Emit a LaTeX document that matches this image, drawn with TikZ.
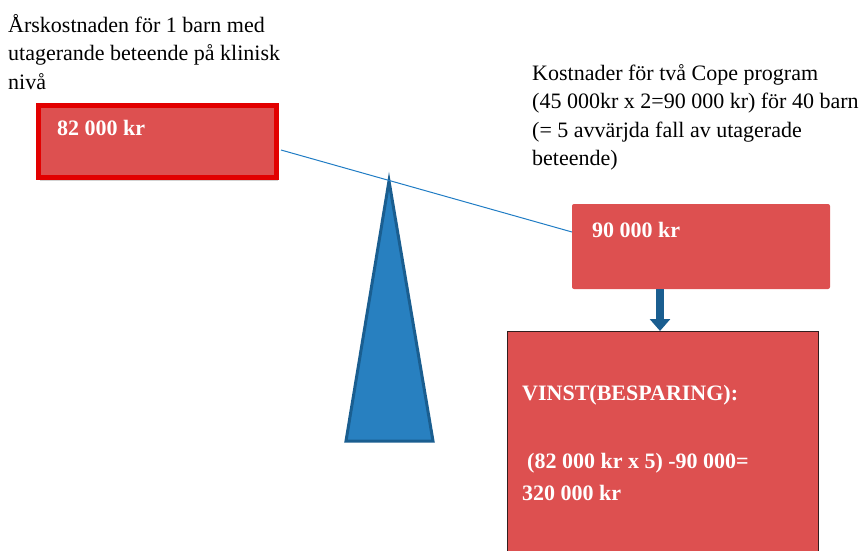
\documentclass[tikz,border=0pt]{standalone}
\usepackage{fontspec}
\setmainfont{Liberation Serif}
\usetikzlibrary{shadows,arrows.meta}
\definecolor{boxred}{RGB}{221,80,80}
\definecolor{brightred}{RGB}{226,0,0}
\definecolor{triblue}{RGB}{40,128,192}
\definecolor{darkblue}{RGB}{26,94,144}
\definecolor{lineblue}{RGB}{32,124,196}
\definecolor{darkedge}{RGB}{50,30,30}
\tikzset{
  plain/.style={font=\fontsize{22}{28.5}\selectfont, align=left, inner sep=0pt, text=black},
  boxtext/.style={font=\fontsize{22}{32}\selectfont\bfseries, align=left, inner sep=0pt, text=white},
  redbox/.style={fill=boxred, draw=none, inner sep=0pt},
}
\begin{document}
\begin{tikzpicture}[x=1pt,y=-1pt]
\useasboundingbox (0,0) rectangle (864,551);
\clip (0,0) rectangle (864,551);
% left box
\node[redbox, draw=brightred, line width=5pt, minimum width=238pt, minimum height=72pt,
  drop shadow={shadow xshift=1pt, shadow yshift=-3pt, opacity=0.35}] (bl) at (157.5,141.5) {};
\node[boxtext, anchor=base west] (tl) at (57,135) {82 000 kr};
% right small box
\node[redbox, rounded corners=2pt, minimum width=258pt, minimum height=85pt] (br) at (701,246.5) {};
\node[boxtext, anchor=base west] (tr) at (592,237) {90 000 kr};
% big box
\node[redbox, draw=darkedge, line width=0.8pt, minimum width=311pt, minimum height=240pt, anchor=north west] (bb) at (507,331) {};
\node[boxtext, anchor=base west] (tv) at (522,400) {VINST(BESPARING):};
\node[boxtext, anchor=north west] (tc) at (522,453) {\hspace*{5pt}(82 000 kr x 5) -90 000=\\320 000 kr};
% triangle
\coordinate (apex) at (389,181);
\coordinate (bleft) at (346,441);
\coordinate (bright) at (433,441);
\draw[fill=triblue, draw=darkblue, line width=3pt, line join=miter] (apex) -- (bleft) -- (bright) -- cycle;
% beam line
\coordinate (ls) at (281,150);
\coordinate (le) at (572,232);
\draw[lineblue, line width=1pt] (ls) -- (le);
% arrow
\coordinate (as) at (660,289);
\coordinate (ae) at (660,331);
\draw[darkblue, line width=8pt, -{Triangle[width=20pt,length=12pt]}] (as) -- (ae);
% texts
\node[plain, anchor=north west] (t1) at (8,14) {Årskostnaden för 1 barn med\\utagerande beteende på klinisk\\nivå};
\node[plain, anchor=north west] (t2) at (532,64) {Kostnader för två Cope program\\(45 000kr x 2=90 000 kr) för 40 barn\\(= 5 avvärjda fall av utagerade\\beteende)};
\end{tikzpicture}
\end{document}
